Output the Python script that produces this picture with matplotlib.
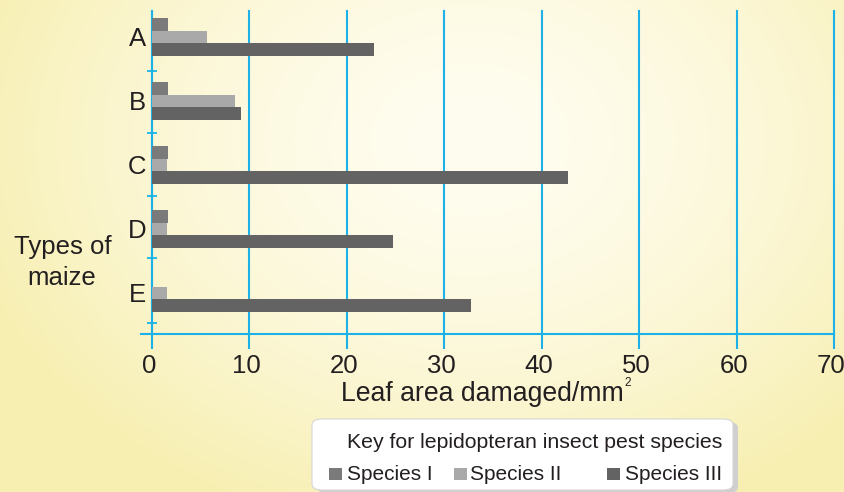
import numpy as np
import matplotlib
matplotlib.use("Agg")
import matplotlib.pyplot as plt
from matplotlib.patches import FancyBboxPatch, Rectangle
from matplotlib.lines import Line2D
from matplotlib.transforms import ScaledTranslation

plt.rcParams['font.family'] = ['Liberation Sans', 'DejaVu Sans']

# ---- data -------------------------------------------------------------
maize_types = ["A", "B", "C", "D", "E"]
species_names = ["Species I", "Species II", "Species III"]
species_1 = [1.6, 1.6, 1.6, 1.6, 0.0]
species_2 = [5.6, 8.5, 1.5, 1.5, 1.5]
species_3 = [22.8, 9.1, 42.7, 24.7, 32.7]
x_ticks = [0, 10, 20, 30, 40, 50, 60, 70]

# ---- style ------------------------------------------------------------
W, H = 845, 492
BLUE = "#1cb2e8"
TEXT = "#231f20"
bar_colors = ["#7b7a7b", "#a9a9aa", "#646364"]

fig = plt.figure(figsize=(W / 100, H / 100), dpi=100)

# soft yellow background, brighter towards the middle
bg = fig.add_axes([0, 0, 1, 1], zorder=-10)
yy, xx = np.mgrid[0:H, 0:W]
t = np.sqrt(((xx - 470) / 520.0) ** 2 + ((yy - 140) / 400.0) ** 2)
t = np.clip(t, 0, 1) ** 1.6
c_in = np.array([255, 253, 240]) / 255.0
c_out = np.array([247, 239, 178]) / 255.0
img = c_in[None, None, :] * (1 - t[..., None]) + c_out[None, None, :] * t[..., None]
bg.imshow(img, aspect="auto", extent=[0, W, H, 0])
bg.set_xlim(0, W)
bg.set_ylim(H, 0)
bg.axis("off")


def fx(px):
    return px / W


def fy(py):
    return 1 - py / H


# ---- main axes --------------------------------------------------------
left, right, top, bottom = 152, 834, 11, 333.5
ax = fig.add_axes([fx(left), fy(bottom), fx(right - left), (bottom - top) / H])
ax.patch.set_visible(False)

unit = 64.0          # pixels per category
bh = 12.6 / unit     # bar thickness
ypos = np.arange(len(maize_types))
series = [species_1, species_2, species_3]
offsets = [-bh, 0.0, bh]
for vals, off, col in zip(series, offsets, bar_colors):
    ax.barh(ypos + off, vals, height=bh, color=col, linewidth=0, zorder=3)

ax.set_xlim(0, 70)
ax.set_ylim((bottom - 37) / unit, -(37 - top) / unit)

ax.set_xticks(x_ticks)
ax.set_xticklabels([str(v) for v in x_ticks])
ax.grid(axis="x", color=BLUE, linewidth=1.5, zorder=1)
for gl in ax.get_xgridlines():
    gl.set_clip_on(False)
ax.tick_params(axis="x", direction="out", length=10.5, width=1.5, color=BLUE,
               labelsize=18.5, labelcolor=TEXT, pad=4.5)
shift = ScaledTranslation(-3 / 100, 0, fig.dpi_scale_trans)
for lbl in ax.get_xticklabels():
    lbl.set_transform(lbl.get_transform() + shift)

ax.set_yticks(ypos)
ax.set_yticklabels(maize_types)
ax.tick_params(axis="y", which="major", length=0, labelsize=18.5,
               labelcolor=TEXT, pad=4)
ax.set_yticks([0.53, 1.5, 2.48, 3.45, 4.47], minor=True)
ax.tick_params(axis="y", which="minor", direction="inout", length=7,
               width=1.3, color=BLUE)

for s in ["top", "right", "bottom"]:
    ax.spines[s].set_visible(False)
ax.spines["left"].set_color(BLUE)
ax.spines["left"].set_linewidth(1.5)

# bottom axis line, running a little past the left spine
ax.add_line(Line2D([-11 / (right - left), 1.0], [0, 0], transform=ax.transAxes,
                   color=BLUE, linewidth=1.5, clip_on=False, zorder=4))

# ---- axis titles ------------------------------------------------------
xlab = fig.text(fx(341), fy(401), "Leaf area damaged/mm", fontsize=19.2,
                color=TEXT, ha="left", va="baseline")
fig.canvas.draw()
fig.text(xlab.get_window_extent().x1 / W + 0.5 / W, fy(385.5), "2",
         fontsize=8.5, color=TEXT, ha="left", va="baseline")
fig.text(fx(63), fy(254), "Types of", fontsize=18.5, color=TEXT,
         ha="center", va="baseline")
fig.text(fx(62), fy(285), "maize", fontsize=18.5, color=TEXT,
         ha="center", va="baseline")

# ---- key box ----------------------------------------------------------
bx0, by0, bx1, by1 = 312, 419, 733, 490
shadow = FancyBboxPatch((fx(bx0 + 5), fy(by1 + 3)), fx(bx1 - bx0), (by1 - by0) / H,
                        boxstyle="round,pad=0,rounding_size=0.012",
                        transform=fig.transFigure, facecolor="#cfcfcf",
                        edgecolor="none", zorder=1)
box = FancyBboxPatch((fx(bx0), fy(by1)), fx(bx1 - bx0), (by1 - by0) / H,
                     boxstyle="round,pad=0,rounding_size=0.012",
                     transform=fig.transFigure, facecolor="white",
                     edgecolor="#d6d6d6", linewidth=0.8, zorder=2)
fig.patches.extend([shadow, box])

fig.text(fx(722), fy(448), "Key for lepidopteran insect pest species",
         fontsize=15.3, color=TEXT, ha="right", va="baseline", zorder=3)

square_x = [329.5, 454, 607]
text_x = [347.5, 470.5, 625]
for sx, tx, name, col in zip(square_x, text_x, species_names, bar_colors):
    fig.patches.append(Rectangle((fx(sx), fy(480)), fx(13), 12 / H,
                                 transform=fig.transFigure, facecolor=col,
                                 edgecolor="none", zorder=3))
    fig.text(fx(tx), fy(480), name, fontsize=15, color=TEXT,
             ha="left", va="baseline", zorder=3)

fig.savefig("out.png", dpi=100)
